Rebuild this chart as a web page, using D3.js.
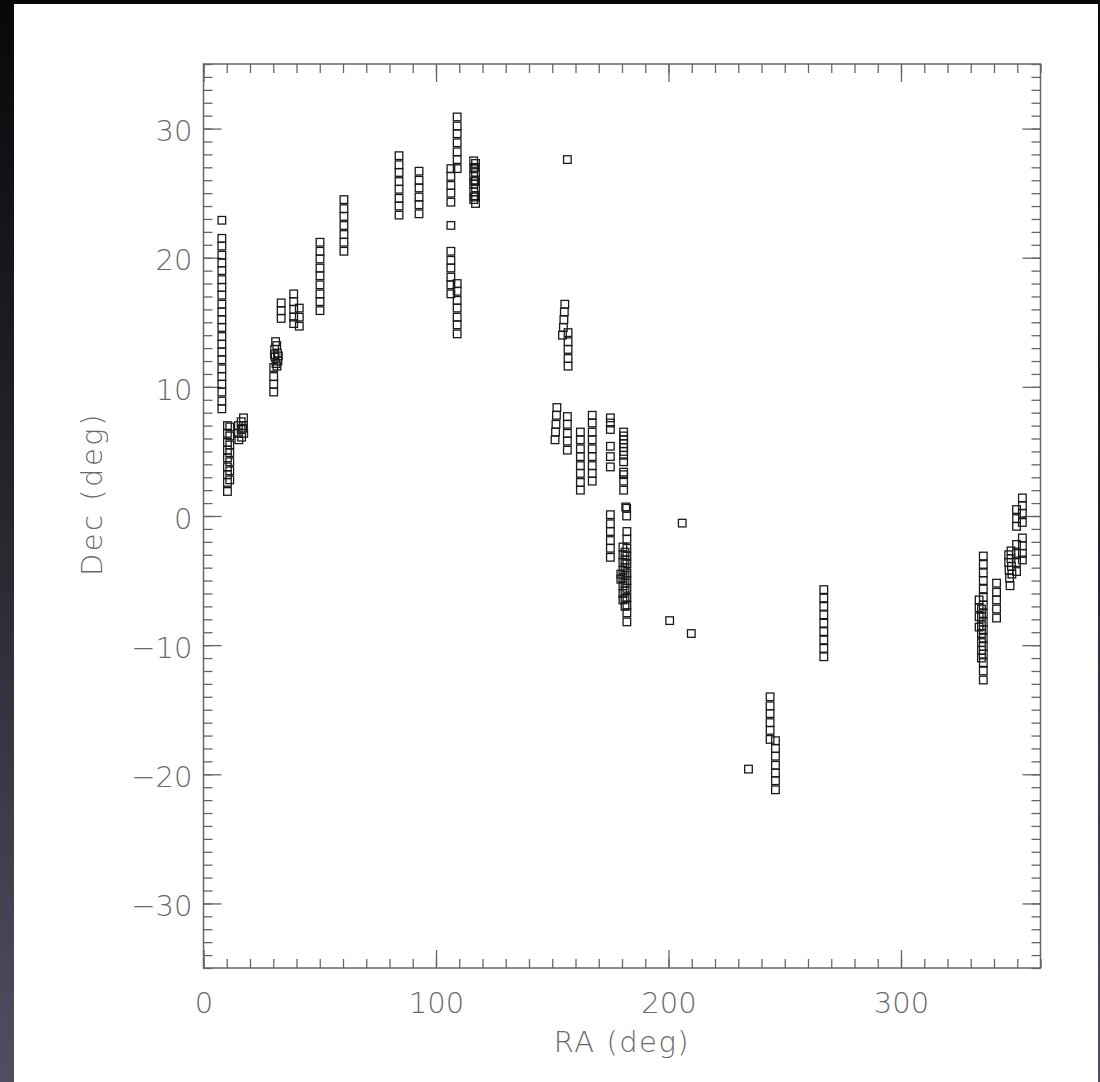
<!DOCTYPE html>
<html>
<head>
<meta charset="utf-8">
<script src="https://cdnjs.cloudflare.com/ajax/libs/d3/7.8.5/d3.min.js"></script>
<style>
  html, body { margin: 0; padding: 0; }
  body { width: 1100px; height: 1082px; overflow: hidden;
         background: linear-gradient(to bottom, #08080a 0%, #24242c 45%, #504f62 100%); }
  svg { display: block; }
  .tick text, .title { font-family: "DejaVu Sans", sans-serif; font-weight: 200; fill: #6a6a6a; }
</style>
</head>
<body>
<div id="chart"></div>
<script>
// tick labels
var xTicks = [0, 100, 200, 300];
var yTicks = [-30, -20, -10, 0, 10, 20, 30];

// pointings, [RA, Dec] in degrees
var stripeA = [  // RA 0-20
  [7.9,22.9],
  [7.9,21.5],[7.9,20.9],[7.9,20.2],[7.9,19.6],[7.9,19.0],[7.9,18.3],[7.9,17.7],[7.9,17.1],
  [7.9,16.4],[7.9,15.8],[7.9,15.2],[7.9,14.6],[7.9,13.9],[7.9,13.3],[7.9,12.7],[7.9,12.1],
  [7.9,11.4],[7.9,10.8],[7.9,10.2],[7.9,9.6],[7.9,8.9],[7.9,8.3],
  [10.3,7.0],[10.3,6.4],[10.3,5.7],[10.3,5.1],[10.3,4.5],[10.3,3.8],[10.3,3.2],[10.3,2.6],[10.3,1.9],
  [11.3,6.9],[11.3,6.2],[11.3,5.5],[11.3,4.9],[11.3,4.2],[11.3,3.5],[11.3,2.8],
  [15.0,7.0],[15.0,6.4],[15.2,5.9],[16.2,7.3],[16.2,6.7],[16.4,6.1],[17.2,7.6],[17.2,7.0],
  [17.3,6.4],[16.8,6.8]
];
var stripeB = [  // RA 30-60
  [31.0,13.5],[31.5,13.2],[30.6,12.9],[31.8,12.6],[30.8,12.3],[32.0,12.0],[31.2,11.8],
  [30.5,12.5],[32.2,12.4],[31.6,11.6],
  [30.2,11.5],[30.2,10.8],[30.2,10.2],[30.2,9.6],
  [33.4,16.5],[33.4,15.9],[33.4,15.3],
  [38.8,17.2],[38.8,16.6],[38.8,16.0],[38.8,15.4],[38.8,14.9],
  [41.2,16.1],[41.2,15.4],[41.2,14.7],
  [50.1,21.2],[50.1,20.5],[50.1,19.9],[50.1,19.2],[50.1,18.6],[50.1,17.9],[50.1,17.2],
  [50.1,16.6],[50.1,15.9],
  [60.4,24.5],[60.4,23.8],[60.4,23.2],[60.4,22.5],[60.4,21.8],[60.4,21.2],[60.4,20.5]
];
var stripeC = [  // RA 80-120
  [84.1,27.9],[84.1,27.2],[84.1,26.6],[84.1,25.9],[84.1,25.3],[84.1,24.6],[84.1,24.0],[84.1,23.3],
  [92.7,26.7],[92.7,26.0],[92.7,25.4],[92.7,24.7],[92.7,24.1],[92.7,23.4],
  [109.1,30.9],[109.1,30.2],[109.1,29.6],[109.1,28.9],[109.1,28.2],[109.1,27.6],[109.1,26.9],
  [106.4,26.9],[106.4,26.3],[106.4,25.6],[106.4,25.0],[106.4,24.3],
  [106.4,22.5],
  [106.4,20.5],[106.4,19.8],[106.4,19.2],[106.4,18.5],[106.4,17.9],[106.4,17.2],
  [109.1,18.0],[109.1,17.4],[109.1,16.7],[109.1,16.1],[109.1,15.4],[109.1,14.8],[109.1,14.1],
  [116.2,27.5],[116.2,26.9],[116.2,26.3],[116.2,25.7],[116.2,25.1],[116.2,24.5],
  [117.0,27.3],[117.0,26.6],[117.0,26.0],[117.0,25.4],[117.0,24.8],[117.0,24.2],
  [116.6,27.0],[116.6,25.9],[116.6,24.7]
];
var stripeD = [  // RA 150-185
  [156.5,27.6],
  [155.4,16.4],[155.2,15.8],[155.0,15.2],[154.8,14.6],[154.4,14.0],
  [156.8,14.2],[156.8,13.5],[156.8,12.9],[156.8,12.2],[156.8,11.6],
  [152.0,8.4],[151.8,7.8],[151.6,7.1],[151.4,6.5],[151.2,5.9],
  [156.5,7.7],[156.5,7.1],[156.5,6.4],[156.5,5.8],[156.5,5.1],
  [162.1,6.5],[162.1,5.9],[162.1,5.2],[162.1,4.6],[162.1,3.9],[162.1,3.3],[162.1,2.6],[162.1,2.0],
  [167.2,7.8],[167.2,7.2],[167.2,6.5],[167.2,5.9],[167.2,5.2],[167.2,4.6],[167.2,3.9],
  [167.2,3.3],[167.2,2.7],
  [175.0,7.6],[175.0,7.2],[175.0,6.7],[175.0,5.4],[175.0,4.6],[175.0,3.8],
  [180.7,6.5],[180.7,6.2],[180.7,5.9],[180.7,5.6],[180.7,5.3],[180.7,5.0],[180.7,4.7],
  [180.7,4.2],[180.7,3.4],[180.7,3.2],[180.7,2.7],[180.7,2.0],
  [181.6,0.7],[182.0,0.6],[182.0,0.0],
  [175.0,0.1],[175.0,-0.6],[175.0,-1.2],[175.0,-1.9],[175.0,-2.5],[175.0,-3.2],
  [182.1,-1.2],[182.1,-1.8],[182.1,-2.5],[182.1,-3.1],[182.1,-3.7],[182.1,-4.4],[182.1,-5.0],
  [182.1,-5.6],[182.1,-6.3],[182.1,-6.9],[182.1,-7.5],[182.1,-8.2],
  [180.4,-2.4],[180.4,-3.0],[180.4,-3.6],[180.4,-4.2],[180.4,-4.8],[180.4,-5.4],[180.4,-6.0],[180.4,-6.5],
  [181.3,-2.8],[181.3,-3.4],[181.3,-4.0],[181.3,-4.6],[181.3,-5.2],[181.3,-5.8],[181.3,-6.4],[181.3,-7.0],
  [179.5,-4.5],[179.5,-4.9]
];
var stripeE = [  // RA 200-270
  [205.9,-0.55],[200.5,-8.1],[209.8,-9.1],[234.4,-19.6],
  [243.7,-14.0],[243.7,-14.7],[243.7,-15.3],[243.7,-16.0],[243.7,-16.6],[243.7,-17.3],
  [246.0,-17.4],[246.0,-18.0],[246.0,-18.6],[246.0,-19.3],[246.0,-19.9],[246.0,-20.5],[246.0,-21.2],
  [266.8,-5.7],[266.8,-6.35],[266.8,-7.0],[266.8,-7.65],[266.8,-8.3],[266.8,-8.95],[266.8,-9.6],
  [266.8,-10.25],[266.8,-10.9]
];
var stripeF = [  // RA 330-360
  [335.4,-3.1],[335.4,-3.75],[335.4,-4.4],[335.4,-5.0],[335.4,-5.65],[335.4,-6.3],[335.4,-6.9],
  [335.4,-7.55],[335.4,-8.2],[335.4,-8.8],[335.4,-9.45],[335.4,-10.1],[335.4,-10.7],[335.4,-11.35],
  [335.4,-12.0],[335.4,-12.7],
  [334.6,-7.2],[334.6,-7.8],[334.6,-8.5],[334.6,-9.1],[334.6,-9.8],[334.6,-10.4],[334.6,-11.0],
  [333.6,-6.5],[333.6,-7.1],[333.6,-7.8],[333.6,-8.6],
  [341.1,-5.2],[341.1,-5.9],[341.1,-6.5],[341.1,-7.2],[341.1,-7.9],
  [346.3,-3.0],[346.3,-3.6],[346.5,-4.2],[346.7,-4.8],[346.9,-5.4],
  [347.3,-2.7],[347.3,-3.3],[347.5,-3.9],[347.7,-4.5],
  [349.7,0.5],[349.7,-0.2],[349.7,-0.8],
  [349.7,-2.2],[349.7,-2.9],[349.7,-3.6],[349.7,-4.3],
  [352.2,1.4],[352.2,0.8],[352.2,0.2],[352.2,-0.5],[352.2,-1.7],[352.2,-2.3],[352.2,-2.9],[352.2,-3.4]
];

var points = stripeA.concat(stripeB, stripeC, stripeD, stripeE, stripeF);

var w = 1100;
var h = 1082;
var plotLeft = 203.5, plotRight = 1040.5, plotTop = 64, plotBottom = 968;

var svg = d3.select("#chart").append("svg")
    .attr("width", w)
    .attr("height", h);

// white sheet over the dark backdrop
svg.append("rect")
    .attr("x", 14).attr("y", 4)
    .attr("width", 1084).attr("height", h - 4)
    .attr("fill", "#fff");

var x = d3.scaleLinear().domain([0, 360]).range([plotLeft, plotRight]);
var y = d3.scaleLinear().domain([-35, 35]).range([plotBottom, plotTop]);

var minus = function(d) { return d < 0 ? "\u2212" + Math.abs(d) : d; };
var axisColor = "#666";

function styleAxis(g) {
    g.select(".domain").remove();
    g.selectAll("line").attr("stroke", axisColor).attr("stroke-width", 1.3);
    g.selectAll("text").attr("font-size", "29px");
}

// minor ticks, all four sides
svg.append("g").attr("transform", "translate(0," + plotBottom + ")")
    .call(d3.axisBottom(x).tickValues(d3.range(0, 361, 10)).tickSize(-9).tickFormat(""))
    .call(styleAxis);
svg.append("g").attr("transform", "translate(0," + plotTop + ")")
    .call(d3.axisTop(x).tickValues(d3.range(0, 361, 10)).tickSize(-9).tickFormat(""))
    .call(styleAxis);
svg.append("g").attr("transform", "translate(" + plotLeft + ",0)")
    .call(d3.axisLeft(y).tickValues(d3.range(-35, 36, 1)).tickSize(-9).tickFormat(""))
    .call(styleAxis);
svg.append("g").attr("transform", "translate(" + plotRight + ",0)")
    .call(d3.axisRight(y).tickValues(d3.range(-35, 36, 1)).tickSize(-9).tickFormat(""))
    .call(styleAxis);

// major ticks with labels
svg.append("g").attr("transform", "translate(0," + plotBottom + ")")
    .call(d3.axisBottom(x).tickValues(xTicks).tickSize(-18).tickPadding(24))
    .call(styleAxis);
svg.append("g").attr("transform", "translate(0," + plotTop + ")")
    .call(d3.axisTop(x).tickValues(xTicks).tickSize(-18).tickFormat(""))
    .call(styleAxis);
svg.append("g").attr("transform", "translate(" + plotLeft + ",0)")
    .call(d3.axisLeft(y).tickValues(yTicks).tickSize(-18).tickPadding(11).tickFormat(minus))
    .call(styleAxis)
    .selectAll("text").attr("dy", "0.42em");
svg.append("g").attr("transform", "translate(" + plotRight + ",0)")
    .call(d3.axisRight(y).tickValues(yTicks).tickSize(-18).tickFormat(""))
    .call(styleAxis);

// frame
svg.append("rect")
    .attr("x", plotLeft).attr("y", plotTop)
    .attr("width", plotRight - plotLeft).attr("height", plotBottom - plotTop)
    .attr("fill", "none")
    .attr("stroke", axisColor)
    .attr("stroke-width", 1.5);

// axis titles
svg.append("text")
    .attr("class", "title")
    .attr("x", (plotLeft + plotRight) / 2)
    .attr("y", 1052)
    .attr("text-anchor", "middle")
    .attr("font-size", "29px")
    .attr("letter-spacing", "1.5px")
    .text("RA (deg)");
svg.append("text")
    .attr("class", "title")
    .attr("transform", "translate(102,494) rotate(-90)")
    .attr("text-anchor", "middle")
    .attr("font-size", "29px")
    .attr("letter-spacing", "2.5px")
    .text("Dec (deg)");

// open squares
svg.selectAll("rect.pt")
    .data(points)
    .enter()
    .append("rect")
    .attr("class", "pt")
    .attr("x", function(d) { return x(d[0]) - 3.8; })
    .attr("y", function(d) { return y(d[1]) - 3.8; })
    .attr("width", 7.6)
    .attr("height", 7.6)
    .attr("fill", "none")
    .attr("stroke", "#1a1a1a")
    .attr("stroke-width", 1.3);
</script>
</body>
</html>
